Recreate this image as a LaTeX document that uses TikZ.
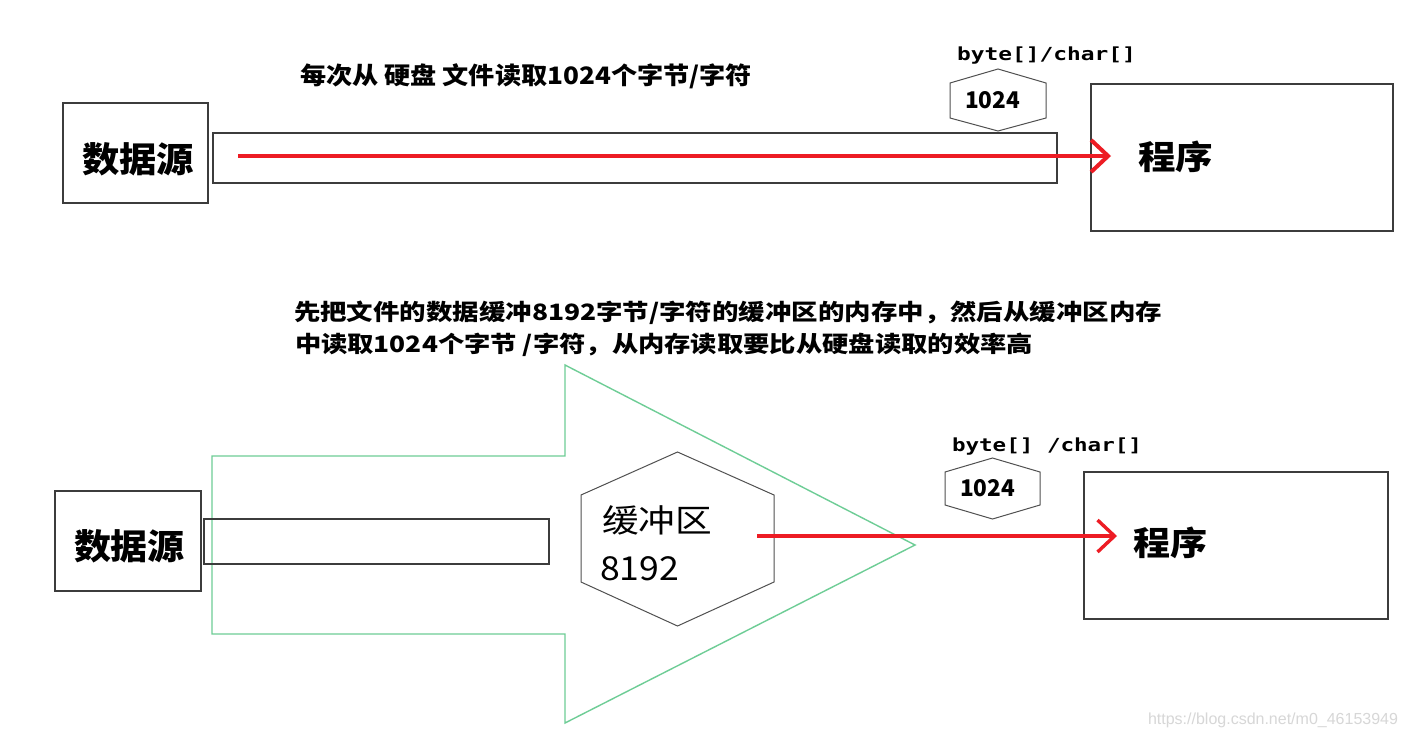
\documentclass[tikz,border=0pt]{standalone}
\usepackage{graphicx}
\usepackage{fontspec}
\usetikzlibrary{arrows.meta}
\newfontfamily\cjk{Noto Sans CJK SC}
\newfontfamily\monob{DejaVu Sans Mono}
\newfontfamily\wmfont{Liberation Sans}
\newcommand\fitt[2]{\resizebox{#1}{\height}{#2}}
\newcommand\fsz[1]{\fontsize{#1}{#1}\selectfont}
\definecolor{boxline}{RGB}{60,60,60}
\definecolor{hexline}{RGB}{80,80,80}
\definecolor{arrred}{RGB}{237,28,36}
\definecolor{arrgreen}{RGB}{110,205,150}
\definecolor{wmgray}{RGB}{215,215,215}
\tikzset{
  box/.style={draw=boxline, line width=1.5pt, inner sep=0pt, outer sep=0pt},
  txt/.style={anchor=west, inner sep=0pt, outer sep=0pt, text=black},
  hexagon/.style={draw=hexline, line width=1pt, line join=miter},
  redarrow/.style={draw=arrred, line width=4pt, line cap=butt,
    -{Straight Barb[length=17pt,width=32pt,line join=miter]}},
  greenarrow/.style={draw=arrgreen, line width=1.4pt}
}
\begin{document}
\begin{tikzpicture}[x=1pt,y=-1pt]
\useasboundingbox (0,0) rectangle (1405,739);
\fill[white] (0,0) rectangle (1405,739);

% ---------------- top part ----------------
\node[txt] (lbl1) at (300,76) {\fitt{452pt}{\cjk\bfseries\fsz{24}每次从 硬盘 文件读取1024个字节/字符}};

\node[box, minimum width=145pt, minimum height=100pt] (src1) at (135.5,153) {};
\node[txt] (src1t) at (82,159) {\fitt{112pt}{\cjk\bfseries\fsz{35}数据源}};

\node[box, minimum width=844pt, minimum height=50pt] (pipe1) at (635,158) {};

\node[box, minimum width=302pt, minimum height=147pt] (prog1) at (1242,157.5) {};
\node[txt] (prog1t) at (1138,157) {\fitt{75pt}{\cjk\bfseries\fsz{33}程序}};

\node[txt] (arr1t) at (957,56) {\fitt{179pt}{\monob\bfseries\fsz{18}byte[]/char[]}};
\draw[hexagon] (998,69) -- (1046,83) -- (1046,118) -- (998,131) -- (950,118) -- (950,83) -- cycle;
\node[txt] (hex1t) at (965,100.5) {\fitt{55pt}{\cjk\bfseries\fsz{23}1024}};

\coordinate (a1s) at (238,156);
\coordinate (a1e) at (1111,156);
\draw[redarrow] (a1s) -- (a1e);

% ---------------- bottom part ----------------
\node[txt] (lbl2) at (294,313) {\fitt{868pt}{\cjk\bfseries\fsz{22.5}先把文件的数据缓冲8192字节/字符的缓冲区的内存中，然后从缓冲区内存}};
\node[txt] (lbl3) at (295,345) {\fitt{738pt}{\cjk\bfseries\fsz{22.5}中读取1024个字节 /字符，从内存读取要比从硬盘读取的效率高}};

\draw[greenarrow] (212,456) -- (565,456) -- (565,365) -- (915,545) -- (565,723) -- (565,634) -- (212,634) -- cycle;

\node[box, minimum width=146pt, minimum height=100pt] (src2) at (128,541) {};
\node[txt] (src2t) at (74,546.5) {\fitt{111pt}{\cjk\bfseries\fsz{35}数据源}};

\node[box, minimum width=345pt, minimum height=45pt] (pipe2) at (376.5,541.5) {};

\draw[hexagon] (677.5,452) -- (774,495) -- (774,582) -- (677.5,626) -- (581,582) -- (581,495) -- cycle;
\node[txt] (buft) at (602,520.5) {\fitt{110pt}{\cjk\fsz{32}缓冲区}};
\node[txt] (bufn) at (600,569) {\fitt{79pt}{\cjk\fsz{33}8192}};

\node[txt] (arr2t) at (952,446.5) {\fitt{190pt}{\monob\bfseries\fsz{18}byte[] /char[]}};
\draw[hexagon] (992.5,458) -- (1040,472) -- (1040,505) -- (992.5,519) -- (945,505) -- (945,472) -- cycle;
\node[txt] (hex2t) at (960,488.5) {\fitt{55pt}{\cjk\bfseries\fsz{23}1024}};

\node[box, minimum width=304pt, minimum height=147pt] (prog2) at (1236,545.5) {};
\node[txt] (prog2t) at (1133,542.5) {\fitt{74pt}{\cjk\bfseries\fsz{33}程序}};

\coordinate (a2s) at (757,536);
\coordinate (a2e) at (1117,536);
\draw[redarrow, line width=3.4pt] (a2s) -- (a2e);

\node[txt, text=wmgray] (wm) at (1148,720) {\fitt{250pt}{\wmfont\fsz{16}https://blog.csdn.net/m0\_46153949}};
\end{tikzpicture}
\end{document}
